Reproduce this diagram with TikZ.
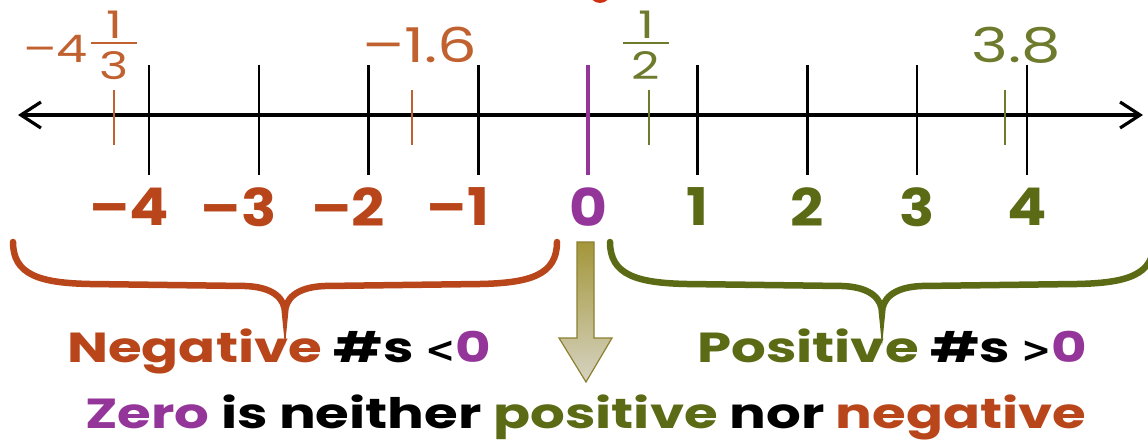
\documentclass[tikz,border=0pt]{standalone}
\usepackage{fontspec}
\setmainfont{Poppins}
\newfontfamily\widefont[FakeStretch=1.3]{Poppins}
\newfontfamily\numfont[FakeStretch=1.12]{Poppins}
\newfontfamily\relfont{DejaVu Sans}
\usetikzlibrary{arrows.meta,calc}

\definecolor{negcol}{HTML}{B8461A}
\definecolor{poscol}{HTML}{5B6A14}
\definecolor{zerocol}{HTML}{94359A}
\definecolor{lightneg}{HTML}{C0612F}
\definecolor{lightpos}{HTML}{6E7A2C}
\definecolor{shaftcol}{HTML}{A4963A}
\definecolor{headcol}{HTML}{D6D3C2}

\begin{document}
\begin{tikzpicture}[x=1pt,y=-1pt]
  \tikzstyle{tick}=[line width=2.5pt,black]
  \tikzstyle{minortick}=[line width=1.8pt]
  \tikzstyle{bignum}=[font=\numfont\fontsize{52}{52}\selectfont\bfseries,inner sep=0pt]
  \tikzstyle{decnum}=[font=\widefont\fontsize{48}{48}\selectfont,inner sep=0pt]
  \tikzstyle{fracnum}=[font=\widefont\fontsize{38}{38}\selectfont,inner sep=0pt]
  \tikzstyle{caption}=[font=\widefont\fontsize{42}{42}\selectfont\bfseries,inner sep=0pt,anchor=base west]
  \tikzstyle{brace}=[line width=6.5pt,line cap=round]

  \useasboundingbox (0,0) rectangle (1148,441);
  \fill[white] (0,0) rectangle (1148,441);

  % the line itself
  \coordinate (west) at (18,115);
  \coordinate (east) at (1143,115);
  \draw[line width=3.2pt,{Straight Barb[length=20pt,width=26pt]}-{Straight Barb[length=20pt,width=26pt]}] (west) -- (east);

  % whole numbers
  \foreach \n in {-4,-3,-2,-1,1,2,3,4}{
  \draw[tick] ({588+109.7*(\n)},65) -- ({588+109.7*(\n)},175);
  }
  \draw[line width=4pt,zerocol] (588,65) -- (588,175);

  \foreach \n in {4,3,2,1}{
  \node[bignum,text=negcol] (neg\n) at ({588-109.7*\n},207) {\llap{–}\n};
  \node[bignum,text=poscol] (pos\n) at ({588+109.7*\n},207) {\n};
  }
  \node[bignum,text=zerocol] (zero) at (588,207) {0};

  % fractions and decimals
  \draw[minortick,lightneg] (114,90) -- (114,145);
  \draw[minortick,lightneg] (412,90) -- (412,145);
  \draw[minortick,lightpos] (649,90) -- (649,145);
  \draw[minortick,lightpos] (1005,90) -- (1005,145);

  \node[fracnum,text=lightneg,anchor=east] (mixint) at (88,49) {–4};
  \node[fracnum,text=lightneg] (num3) at (114,25) {1};
  \node[fracnum,text=lightneg] (den3) at (114,66) {3};
  \draw[lightneg,line width=2pt] (91,43) -- (137,43);

  \node[fracnum,text=lightpos] (num2) at (646,25) {1};
  \node[fracnum,text=lightpos] (den2) at (646,66) {2};
  \draw[lightpos,line width=2pt] (623,43) -- (669,43);

  \node[decnum,text=lightneg] (dec16) at (420,45) {–1.6};
  \node[decnum,text=lightpos] (dec38) at (1016,45) {3.8};

  % braces
  \draw[brace,negcol] (13,242) .. controls (13,275) and (40,283) .. (90,284)
    -- (245,286) .. controls (275,287) and (285,300) .. (285,313)
    .. controls (285,300) and (295,287) .. (325,286)
    -- (480,284) .. controls (530,283) and (557,275) .. (557,242);
  \draw[brace,poscol] (610,242) .. controls (610,275) and (637,283) .. (687,284)
    -- (842,286) .. controls (872,287) and (882,300) .. (882,313)
    .. controls (882,300) and (892,287) .. (922,286)
    -- (1077,284) .. controls (1127,283) and (1154,275) .. (1154,242);

  % arrow down from zero
  \draw[shaftcol!85!black,line width=1.2pt,top color=shaftcol,bottom color=headcol]
    (577,242) -- (594,242) -- (594,338) -- (612,338) -- (586,382)
    -- (559,338) -- (577,338) -- cycle;

  \fill[negcol!70!red] (600,-8) circle (11);

  % Annotations
  \node[caption] (negtext) at (67,362)
    {\textcolor{negcol}{Negative} \#s {\relfont\bfseries\fontsize{36}{36}\selectfont<}\textcolor{zerocol}{0}};
  \node[caption] (postext) at (697,362)
    {\textcolor{poscol}{Positive} \#s {\relfont\bfseries\fontsize{36}{36}\selectfont>}\textcolor{zerocol}{0}};
  \node[caption] (zerotext) at (85,428)
    {\textcolor{zerocol}{Zero} is neither \textcolor{poscol}{positive} nor \textcolor{negcol}{negative}};

\end{tikzpicture}
\end{document}
